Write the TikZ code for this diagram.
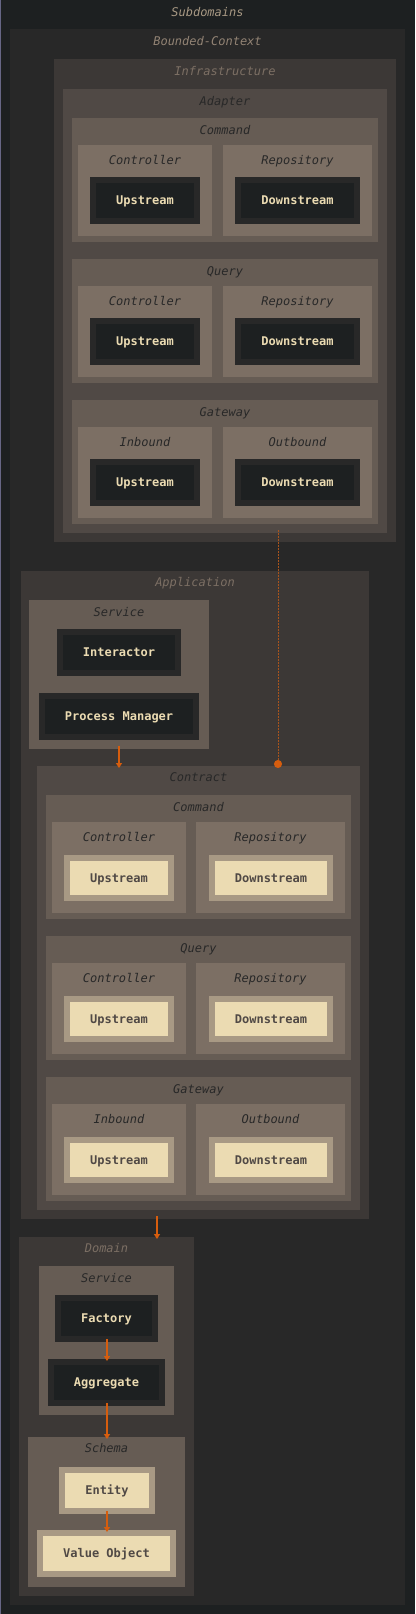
\documentclass[tikz,border=0pt]{standalone}
\usepackage{fontspec}
\setmonofont{DejaVu Sans Mono}
\usetikzlibrary{arrows.meta}
\definecolor{bgh}{HTML}{1D2021}
\definecolor{bgz}{HTML}{282828}
\definecolor{bgi}{HTML}{3C3836}
\definecolor{bgii}{HTML}{504945}
\definecolor{bgiii}{HTML}{665C54}
\definecolor{bgiv}{HTML}{7C6F64}
\definecolor{gry}{HTML}{A89984}
\definecolor{gryb}{HTML}{928374}
\definecolor{fgc}{HTML}{EBDBB2}
\definecolor{orng}{HTML}{D65D0E}
\definecolor{orngd}{HTML}{A9541C}
\tikzset{
  gbox/.style={inner sep=0pt, outer sep=0pt, draw=none},
  lbl/.style={inner sep=0pt, font=\ttfamily\itshape\fontsize{12pt}{14pt}\selectfont, text height=8.8pt, text depth=0pt},
  leafd/.style={inner sep=0pt, outer sep=3pt, draw=bgz, line width=6pt, fill=bgh, text=fgc, minimum height=41pt, font=\ttfamily\bfseries\fontsize{12pt}{14pt}\selectfont, text height=8.8pt, text depth=0pt},
  leafl/.style={leafd, draw=gry, fill=fgc, text=bgii},
  arr/.style={draw=orng, line width=1.2pt, -{Triangle[width=6pt,length=5pt]}, shorten <=-3pt, shorten >=-2pt},
  dotl/.style={draw=orngd, line width=1pt, dash pattern=on 2pt off 1pt, -{Circle[length=8pt,color=orng,fill=orng]}, shorten <=-3pt, shorten >=-2pt}
}
% name, x1, y1, x2, y2, fill, label, label colour, label y
\newcommand\grpbox[9]{%
  \node[gbox, fill=#6, minimum width={(#4)-(#2)}, minimum height={(#5)-(#3)}] (#1) at ({((#2)+(#4))/2},{((#3)+(#5))/2}) {};
  \node[lbl, text=#8] (#1-l) at ({((#2)+(#4))/2},{#9}) {#7};
}
% adapter-style sub group: prefix, top, label, leftlabel, rightlabel
\newcommand\adgrp[5]{%
  \grpbox{#1}{72}{#2}{378}{#2+124}{bgiii}{#3}{bgz}{#2+12}
  \grpbox{#1-a}{78}{#2+27}{212}{#2+118}{bgiv}{#4}{bgz}{#2+42}
  \grpbox{#1-b}{223}{#2+27}{372}{#2+118}{bgiv}{#5}{bgz}{#2+42}
  \node[leafd, minimum width=104pt] (#1-up) at (145,{#2+82.5}) {Upstream};
  \node[leafd, minimum width=119pt] (#1-dn) at (297.5,{#2+82.5}) {Downstream};
}
\newcommand\ctgrp[5]{%
  \grpbox{#1}{46}{#2}{351}{#2+124}{bgiii}{#3}{bgz}{#2+12}
  \grpbox{#1-a}{52}{#2+27}{186}{#2+118}{bgiv}{#4}{bgz}{#2+42}
  \grpbox{#1-b}{196}{#2+27}{345}{#2+118}{bgiv}{#5}{bgz}{#2+42}
  \node[leafl, minimum width=104pt, minimum height=40pt] (#1-up) at (119,{#2+83}) {Upstream};
  \node[leafl, minimum width=118pt, minimum height=40pt] (#1-dn) at (271,{#2+83}) {Downstream};
}
\begin{document}
\begin{tikzpicture}[x=1pt,y=-1pt]
\useasboundingbox (0,0) rectangle (415,1614);
\grpbox{sub}{0}{0}{415}{1614}{bgh}{Subdomains}{gry}{12}
\draw[draw=black!80!blue!60, line width=1pt] (0.5,0) -- (0.5,1614);
\grpbox{bc}{10}{29}{405}{1605}{bgz}{Bounded-Context}{gryb}{41}
% Infrastructure
\grpbox{infra}{54}{59}{396}{542}{bgi}{Infrastructure}{bgiv}{71}
\grpbox{adapter}{63}{89}{387}{533}{bgii}{Adapter}{bgz}{101}
\adgrp{acmd}{118}{Command}{Controller}{Repository}
\adgrp{aqry}{259}{Query}{Controller}{Repository}
\adgrp{agw}{400}{Gateway}{Inbound}{Outbound}
% Application
\grpbox{app}{21}{571}{369}{1219}{bgi}{Application}{bgiv}{582}
\grpbox{svc}{29}{600}{209}{749}{bgiii}{Service}{bgz}{612}
\node[leafd, minimum width=118pt] (interactor) at (119,652.5) {Interactor};
\node[leafd, minimum width=154pt] (pm) at (119,716.5) {Process Manager};
\grpbox{contract}{37}{766}{360}{1210}{bgii}{Contract}{bgz}{777}
\ctgrp{ccmd}{795}{Command}{Controller}{Repository}
\ctgrp{cqry}{936}{Query}{Controller}{Repository}
\ctgrp{cgw}{1077}{Gateway}{Inbound}{Outbound}
% Domain
\grpbox{domain}{19}{1237}{194}{1596}{bgi}{Domain}{bgiv}{1248}
\grpbox{dsvc}{39}{1266}{174}{1415}{bgiii}{Service}{bgz}{1278}
\node[leafd, minimum width=97pt] (factory) at (106.5,1318.5) {Factory};
\node[leafd, minimum width=111pt] (aggregate) at (106.5,1382.5) {Aggregate};
\grpbox{schema}{28}{1437}{185}{1587}{bgiii}{Schema}{bgz}{1448}
\node[leafl, minimum width=90pt] (entity) at (107,1490.5) {Entity};
\node[leafl, minimum width=133pt] (vo) at (106.5,1553.5) {Value Object};
% connectors
\draw[dotl] ([xshift=53pt]adapter.south) -- ([xshift=79.5pt]contract.north);
\draw[arr] (svc.south) -- (contract.north -| svc.south);
\draw[arr] ([xshift=-38pt]app.south) -- ([xshift=-38pt]app.south |- domain.north);
\draw[arr] ([xshift=0.5pt]factory.south) -- ([xshift=0.5pt]aggregate.north);
\draw[arr] ([xshift=0.5pt]aggregate.south) -- ([xshift=0.5pt]aggregate.south |- schema.north);
\draw[arr] (entity.south) -- (vo.north -| entity.south);
\end{tikzpicture}
\end{document}
